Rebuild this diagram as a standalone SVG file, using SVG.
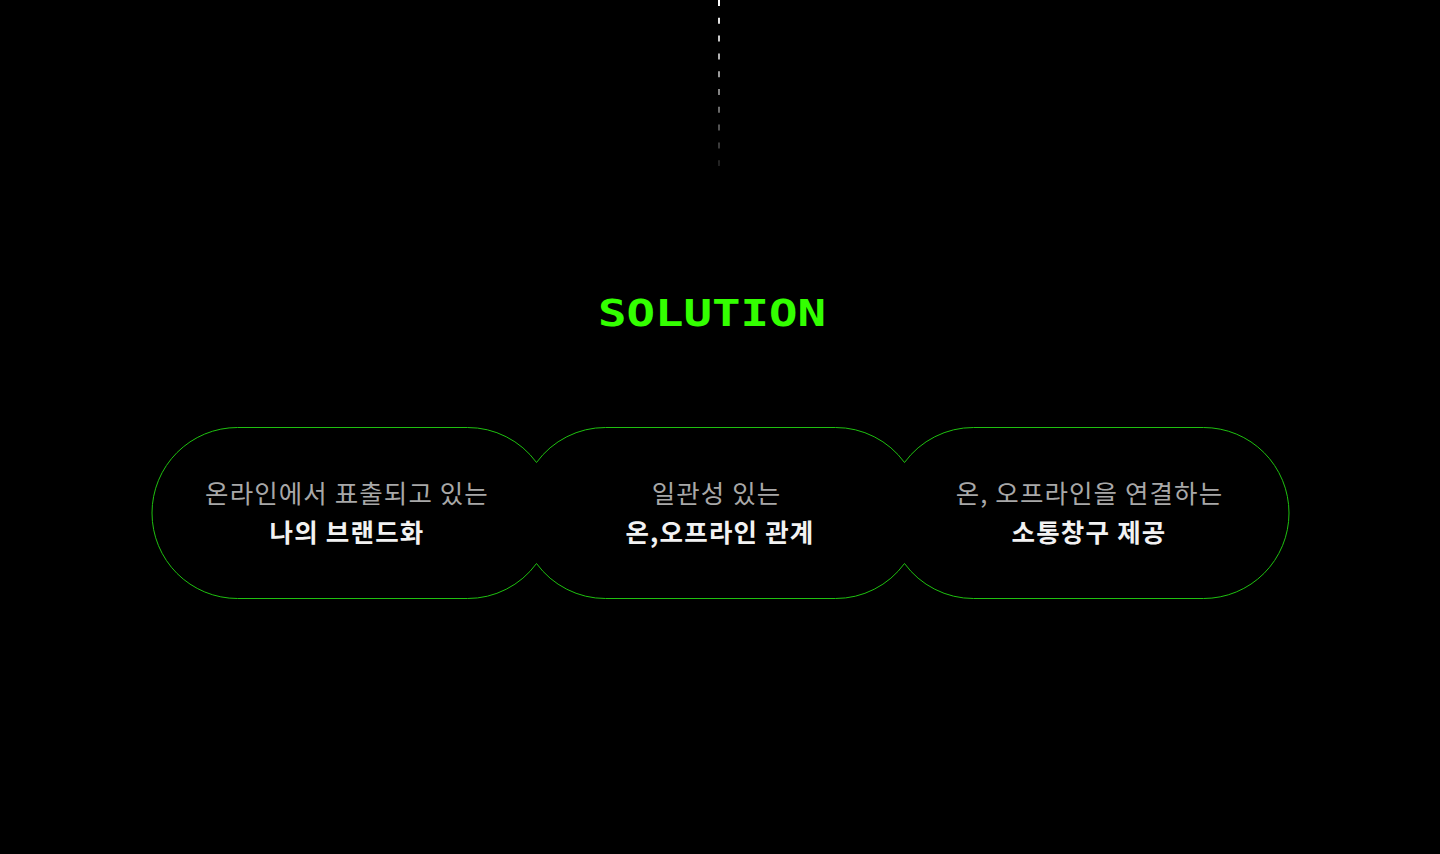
<svg xmlns="http://www.w3.org/2000/svg" width="1440" height="854" viewBox="0 0 1440 854">
<defs>
<linearGradient id="fade" gradientUnits="userSpaceOnUse" x1="0" y1="0" x2="0" y2="166">
<stop offset="0" stop-color="#ffffff" stop-opacity="1"/>
<stop offset="1" stop-color="#ffffff" stop-opacity="0.12"/>
</linearGradient>
<style>
.sub{font-family:"Noto Sans CJK KR",sans-serif;font-size:25.5px;letter-spacing:1.1px;fill:#a8a8a8;text-anchor:middle;}
.main{font-family:"Noto Sans CJK KR",sans-serif;font-size:25.5px;letter-spacing:1.2px;font-weight:700;fill:#f2f2f2;text-anchor:middle;}
.title{font-family:"DejaVu Sans Mono",monospace;font-weight:700;font-size:37px;fill:#33ff00;}
</style>
</defs>
<rect width="1440" height="854" fill="#000"/>
<g id="connectors">
<line x1="719" y1="0" x2="719" y2="166" stroke="url(#fade)" stroke-width="2" stroke-dasharray="6 11.8"/>
</g>
<g id="title">
<text class="title" x="598" y="326" textLength="228" lengthAdjust="spacingAndGlyphs">SOLUTION</text>
</g>
<g id="outline">
<path d="M237.5,427.5 H467.5 A85.5,85.5 0 0 1 536.5,462.5 A85.5,85.5 0 0 1 605.5,427.5 H835.5 A85.5,85.5 0 0 1 904.5,462.5 A85.5,85.5 0 0 1 973.5,427.5 H1203.5 A85.5,85.5 0 0 1 1203.5,598.5 H973.5 A85.5,85.5 0 0 1 904.5,563.5 A85.5,85.5 0 0 1 835.5,598.5 H605.5 A85.5,85.5 0 0 1 536.5,563.5 A85.5,85.5 0 0 1 467.5,598.5 H237.5 A85.5,85.5 0 0 1 237.5,427.5 Z" fill="none" stroke="#1fc010" stroke-width="1"/>
</g>
<g id="node1">
<text class="sub" x="347" y="502.5">온라인에서 표출되고 있는</text>
<text class="main" x="347" y="541.5">나의 브랜드화</text>
</g>
<g id="node2">
<text class="sub" x="716.5" y="502.5">일관성 있는</text>
<text class="main" x="720" y="541.5">온,오프라인 관계</text>
</g>
<g id="node3">
<text class="sub" x="1089.5" y="502.5">온, 오프라인을 연결하는</text>
<text class="main" x="1089" y="541.5">소통창구 제공</text>
</g>
</svg>
